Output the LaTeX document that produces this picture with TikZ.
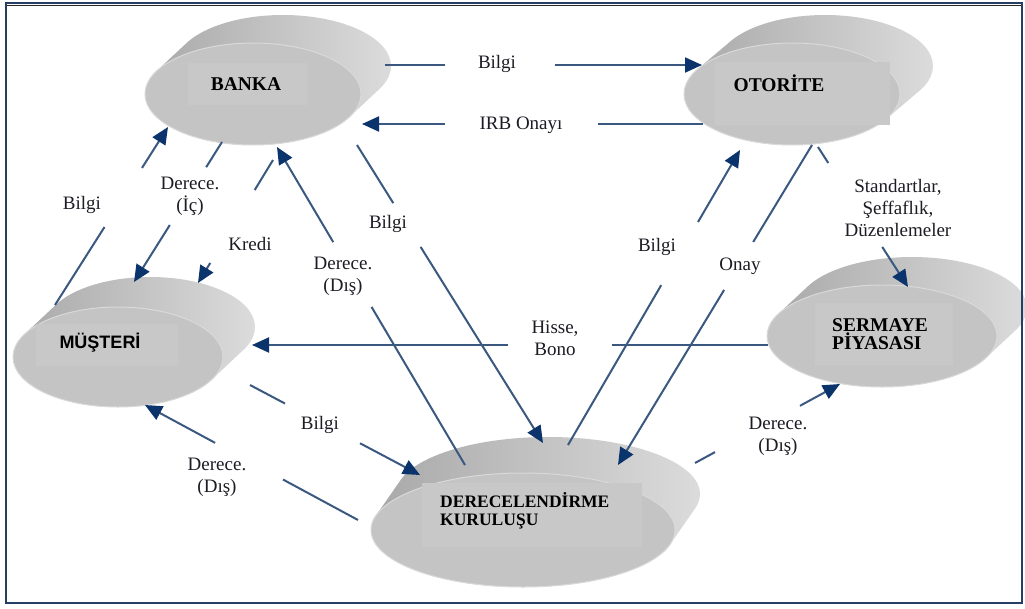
\documentclass[tikz,border=0pt]{standalone}
\usepackage{fontspec}
\setmainfont{Liberation Serif}
\newfontfamily\sanslabel{Liberation Sans}
\usetikzlibrary{arrows.meta,calc}

\definecolor{framecol}{RGB}{38,62,100}
\definecolor{linkcol}{RGB}{58,88,128}
\definecolor{headcol}{RGB}{12,52,108}
\definecolor{inkcol}{RGB}{28,28,36}
\definecolor{facecol}{RGB}{196,196,196}
\definecolor{boxcol}{RGB}{200,200,200}

\tikzset{
  link/.style={draw=linkcol, line width=2pt},
  linkarrow/.style={link, -{Triangle[length=17pt,width=15pt,color=headcol]}},
  lbl/.style={text=inkcol, font=\fontsize{19}{22}\selectfont, align=center, inner sep=0pt},
  title/.style={text=black, font=\fontsize{19.5}{18}\selectfont\bfseries, inner sep=0pt},
  facebox/.style={fill=boxcol, draw=none},
}

% tilted disc: front centre (#1,#2), radii #3,#4, depth offset (#5,#6)
\newcommand\discshape[6]{%
  \shade[left color=black!34, middle color=black!45, right color=black!14]
    foreach \k in {0,1,...,16} { ({#1+\k/16*#5},{#2+\k/16*#6}) ellipse [x radius=#3pt, y radius=#4pt] };
  \fill[facecol, draw=black!15, line width=1pt] (#1,#2) ellipse [x radius=#3pt, y radius=#4pt];
}

% connector interrupted between fractions #3 and #4, arrow tip at #2
\newcommand\brokenlink[4]{%
  \draw[link] (#1) -- ($(#1)!#3!(#2)$);
  \draw[linkarrow] ($(#1)!#4!(#2)$) -- (#2);
}

\begin{document}
\begin{tikzpicture}[x=1pt,y=-1pt]
\useasboundingbox (0,0) rectangle (1025,608);
\fill[white] (0,0) rectangle (1025,608);

% discs
\discshape{253}{94}{108}{51}{30}{-28}
\discshape{792}{94}{108}{51}{33}{-28}
\discshape{118}{357}{105}{50}{32}{-30}
\discshape{882}{336}{115}{51}{30}{-28}
\discshape{523}{530}{152}{57}{25}{-36}

% label panels on the discs
\fill[facebox] (188,63) rectangle (307,105);
\fill[facebox] (715,62) rectangle (890,125);
\fill[facebox] (36,324) rectangle (178,366);
\fill[facebox] (815,303) rectangle (953,365);
\fill[facebox] (422,483) rectangle (642,547);

% disc titles
\node[title] (banka) at (246,84) {BANKA};
\node[title] (otorite) at (779,83) {OTOR\.{I}TE};
\node[title, font=\fontsize{18}{18}\selectfont\sanslabel\bfseries] (musteri) at (100,343) {MÜŞTER\.{I}};
\node[title, align=left, anchor=west] (sermaye) at (832,334) {SERMAYE\\P\.{I}YASASI};
\node[title, font=\fontsize{17.5}{18}\selectfont\bfseries, align=left, anchor=west] (derece) at (440,511) {DERECELEND\.{I}RME\\KURULUŞU};

% connector end points
\coordinate (a1) at (385,65);  \coordinate (b1) at (702,65);
\coordinate (a2) at (703,124); \coordinate (b2) at (362,124);
\coordinate (a3) at (55,305);  \coordinate (b3) at (168,127);
\coordinate (a4) at (222,142); \coordinate (b4) at (134,282);
\coordinate (a5) at (273,160); \coordinate (b5) at (198,283);
\coordinate (a6) at (465,465); \coordinate (b6) at (277,147);
\coordinate (a7) at (357,145); \coordinate (b7) at (543,443);
\coordinate (a8) at (568,445); \coordinate (b8) at (740,150);
\coordinate (a9) at (812,145); \coordinate (b9) at (618,465);
\coordinate (a10) at (818,147); \coordinate (b10) at (908,287);
\coordinate (a11) at (768,345); \coordinate (b11) at (252,345);
\coordinate (a12) at (250,385); \coordinate (b12) at (420,475);
\coordinate (a13) at (358,520); \coordinate (b13) at (145,405);
\coordinate (a14) at (695,463); \coordinate (b14) at (840,384);

% connectors
\brokenlink{a1}{b1}{0.19}{0.536}
\brokenlink{a2}{b2}{0.308}{0.757}
\brokenlink{a3}{b3}{0.438}{0.77}
\brokenlink{a4}{b4}{0.18}{0.593}
\brokenlink{a5}{b5}{0.244}{0.837}
\brokenlink{a6}{b6}{0.497}{0.701}
\brokenlink{a7}{b7}{0.195}{0.342}
\brokenlink{a8}{b8}{0.542}{0.756}
\brokenlink{a9}{b9}{0.303}{0.453}
\brokenlink{a10}{b10}{0.114}{0.714}
\brokenlink{a11}{b11}{0.302}{0.504}
\brokenlink{a12}{b12}{0.206}{0.647}
\brokenlink{a13}{b13}{0.352}{0.671}
\brokenlink{a14}{b14}{0.138}{0.724}

% connector labels
\node[lbl] (l1) at (497,64) {Bilgi};
\node[lbl] (l2) at (521,125) {IRB Onayı};
\node[lbl] (l3) at (82,205) {Bilgi};
\node[lbl] (l4) at (190,196) {Derece.\\(\.{I}ç)};
\node[lbl] (l5) at (250,244) {Kredi};
\node[lbl] (l6) at (343,276) {Derece.\\(Dış)};
\node[lbl] (l7) at (388,224) {Bilgi};
\node[lbl] (l8) at (657,247) {Bilgi};
\node[lbl] (l9) at (740,266) {Onay};
\node[lbl] (l10) at (898,208) {Standartlar,\\Şeffaflık,\\Düzenlemeler};
\node[lbl] (l11) at (555,338) {Hisse,\\Bono};
\node[lbl] (l12) at (320,425) {Bilgi};
\node[lbl] (l13) at (217,477) {Derece.\\(Dış)};
\node[lbl] (l14) at (778,436) {Derece.\\(Dış)};

% frame
\draw[framecol, line width=2.5pt] (6,3) rectangle (1022,603);
\draw[black!85, line width=1pt] (7,5.5) -- (1021,5.5);
\end{tikzpicture}
\end{document}
